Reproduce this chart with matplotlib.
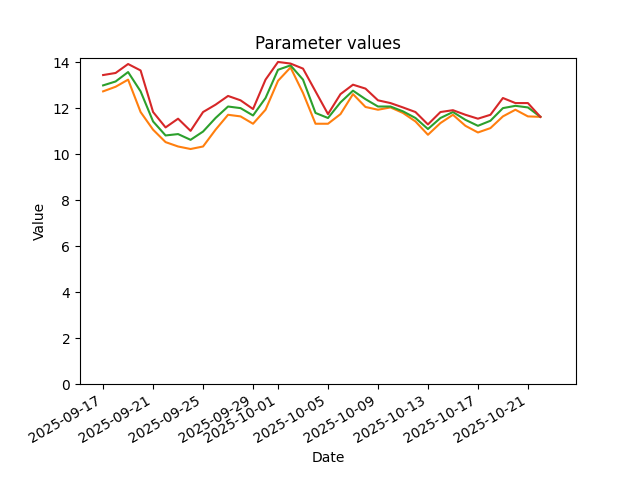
import pandas as pd
import matplotlib
matplotlib.use('Agg')
import matplotlib.pyplot as plt


dates = pd.date_range('2025-09-17', '2025-10-22', freq='D')

# lower / middle / upper values, one per day
lower = [12.74, 12.94, 13.25, 11.84, 11.07, 10.53, 10.34, 10.23, 10.34, 11.07,
         11.72, 11.65, 11.33, 11.94, 13.2, 13.78, 12.67, 11.33, 11.33, 11.75,
         12.62, 12.06, 11.94, 12.04, 11.8, 11.43, 10.85, 11.36, 11.72, 11.24,
         10.95, 11.14, 11.65, 11.94, 11.65, 11.63]
middle = [13.0, 13.17, 13.58, 12.74, 11.43, 10.82, 10.88, 10.63, 10.99, 11.58,
          12.08, 12.01, 11.69, 12.45, 13.68, 13.87, 13.25, 11.8, 11.58, 12.26,
          12.77, 12.4, 12.08, 12.08, 11.87, 11.58, 11.1, 11.58, 11.84, 11.5,
          11.24, 11.46, 12.01, 12.11, 12.04, 11.63]
upper = [13.45, 13.54, 13.93, 13.65, 11.84, 11.17, 11.55, 11.02, 11.84, 12.16,
         12.54, 12.35, 11.97, 13.25, 14.02, 13.95, 13.73, 12.74, 11.75, 12.62,
         13.03, 12.86, 12.35, 12.23, 12.04, 11.84, 11.3, 11.84, 11.92, 11.72,
         11.55, 11.72, 12.45, 12.23, 12.23, 11.63]

fig, ax = plt.subplots(figsize=(6.4, 4.8), dpi=100)
ax.plot(dates, lower, color='C1')
ax.plot(dates, middle, color='C2')
ax.plot(dates, upper, color='C3')

ax.set_ylim(bottom=0)
ax.set_xlim(dates[0] - pd.Timedelta(days=1.85), dates[-1] + pd.Timedelta(days=2.85))
ax.set_title('Parameter values')
ax.set_xlabel('Date')
ax.set_ylabel('Value')
fig.autofmt_xdate()

fig.savefig('out.png')
